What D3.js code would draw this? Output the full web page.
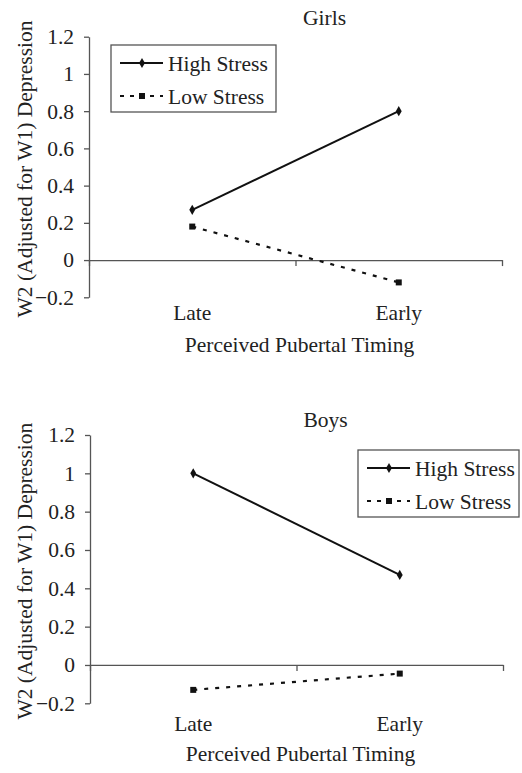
<!DOCTYPE html>
<html>
<head>
<meta charset="utf-8">
<script src="https://cdn.jsdelivr.net/npm/d3@7"></script>
</head>
<body style="margin:0">
<svg width="522" height="773" style="font-family:'Liberation Serif','Times New Roman',Tinos"></svg>
<script>
// categories and series
const timing = ['Late', 'Early'];
const seriesNames = ['High Stress', 'Low Stress'];
const girlsHigh = [0.27, 0.80];
const girlsLow = [0.18, -0.12];
const boysHigh = [1.00, 0.47];
const boysLow = [-0.13, -0.045];
const yTicks = [-0.2, 0, 0.2, 0.4, 0.6, 0.8, 1, 1.2];
const yTickLabels = ['\u22120.2', '0', '0.2', '0.4', '0.6', '0.8', '1', '1.2'];

const FONT = '21.5px';
const AXIS_COLOR = '#555';
const TEXT_COLOR = '#222';

const svg = d3.select('svg');

const label = (sel) => sel
  .style('font-family', "'Liberation Serif', 'Times New Roman', Tinos")
  .style('font-size', FONT)
  .style('fill', TEXT_COLOR);

const drawPanel = (props) => {
  const { title, high, low, top, bottom, left, right, titleY, catDy, xTitleDy, legendBox } = props;

  const g = svg.append('g');

  const y = d3.scaleLinear().domain([-0.2, 1.2]).range([bottom, top]);
  const xBand = d3.scaleBand().domain(timing).range([left, right]);
  const xLin = d3.scaleLinear().domain([0, timing.length]).range([left, right]);
  const cx = d => xBand(d) + xBand.bandwidth() / 2;

  // y axis
  const yAxis = g.append('g')
    .attr('transform', `translate(${left},0)`)
    .call(d3.axisLeft(y)
      .tickValues(yTicks)
      .tickFormat((d, i) => yTickLabels[i])
      .tickSize(5)
      .tickSizeOuter(0)
      .tickPadding(10))
    .attr('font-family', null)
    .attr('font-size', null);
  yAxis.selectAll('text').call(label);
  yAxis.selectAll('line, path').attr('stroke', AXIS_COLOR).attr('stroke-width', 1.3);

  // x axis line at zero with boundary ticks
  const xAxis = g.append('g')
    .attr('transform', `translate(0,${y(0)})`)
    .call(d3.axisBottom(xLin)
      .tickValues(d3.range(timing.length + 1))
      .tickFormat('')
      .tickSize(6)
      .tickSizeOuter(0));
  xAxis.selectAll('line, path').attr('stroke', AXIS_COLOR).attr('stroke-width', 1.3);

  // category labels below plot
  g.selectAll('text.cat')
    .data(timing)
    .enter()
    .append('text')
    .attr('class', 'cat')
    .attr('x', cx)
    .attr('y', y(-0.2) + catDy)
    .attr('text-anchor', 'middle')
    .call(label)
    .text(d => d);

  // x title
  g.append('text')
    .attr('x', (left + right) / 2 + 4)
    .attr('y', y(-0.2) + xTitleDy)
    .attr('text-anchor', 'middle')
    .call(label)
    .text('Perceived Pubertal Timing');

  // y title
  g.append('text')
    .attr('transform', `translate(32,${(top + bottom) / 2 + 2}) rotate(-90)`)
    .attr('text-anchor', 'middle')
    .call(label)
    .text('W2 (Adjusted for W1) Depression');

  // panel title
  g.append('text')
    .attr('x', (left + right) / 2 + 29)
    .attr('y', titleY)
    .attr('text-anchor', 'middle')
    .call(label)
    .text(title);

  const line = d3.line()
    .x((d, i) => cx(timing[i]))
    .y(d => y(d));

  g.append('path')
    .attr('d', line(high))
    .attr('fill', 'none')
    .attr('stroke', '#111')
    .attr('stroke-width', 2);

  g.append('path')
    .attr('d', line(low))
    .attr('fill', 'none')
    .attr('stroke', '#111')
    .attr('stroke-width', 2.2)
    .attr('stroke-dasharray', '4,7');

  const diamond = d3.symbol().type(d3.symbolDiamond).size(30);
  const square = d3.symbol().type(d3.symbolSquare).size(36);

  g.selectAll('path.hi')
    .data(high)
    .enter()
    .append('path')
    .attr('class', 'hi')
    .attr('transform', (d, i) => `translate(${cx(timing[i])},${y(d)})`)
    .attr('d', diamond)
    .attr('fill', '#111');

  g.selectAll('path.lo')
    .data(low)
    .enter()
    .append('path')
    .attr('class', 'lo')
    .attr('transform', (d, i) => `translate(${cx(timing[i])},${y(d)})`)
    .attr('d', square)
    .attr('fill', '#111');

  // legend
  const { x0, y0, w, h } = legendBox;
  const lg = g.append('g').attr('transform', `translate(${x0},${y0})`);
  lg.append('rect')
    .attr('width', w)
    .attr('height', h)
    .attr('fill', '#fff')
    .attr('stroke', AXIS_COLOR)
    .attr('stroke-width', 1.3);

  const rows = lg.selectAll('g.row')
    .data(seriesNames)
    .enter()
    .append('g')
    .attr('class', 'row')
    .attr('transform', (d, i) => `translate(0,${18 + i * 33})`);

  rows.append('line')
    .attr('x1', 9)
    .attr('x2', 52)
    .attr('stroke', '#111')
    .attr('stroke-width', 2)
    .attr('stroke-dasharray', (d, i) => i === 0 ? null : '4,6');

  rows.append('path')
    .attr('transform', 'translate(31,0)')
    .attr('d', (d, i) => i === 0 ? diamond() : square())
    .attr('fill', '#111');

  rows.append('text')
    .attr('x', 57)
    .attr('dy', '0.35em')
    .call(label)
    .text(d => d);
};

drawPanel({
  title: 'Girls',
  high: girlsHigh,
  low: girlsLow,
  top: 36.7,
  bottom: 297.3,
  left: 89,
  right: 502,
  titleY: 25,
  catDy: 23,
  xTitleDy: 55,
  legendBox: { x0: 111, y0: 45, w: 165, h: 67 }
});

drawPanel({
  title: 'Boys',
  high: boysHigh,
  low: boysLow,
  top: 435,
  bottom: 703.3,
  left: 90,
  right: 503,
  titleY: 427,
  catDy: 28,
  xTitleDy: 58,
  legendBox: { x0: 358, y0: 450, w: 161, h: 67 }
});
</script>
</body>
</html>
